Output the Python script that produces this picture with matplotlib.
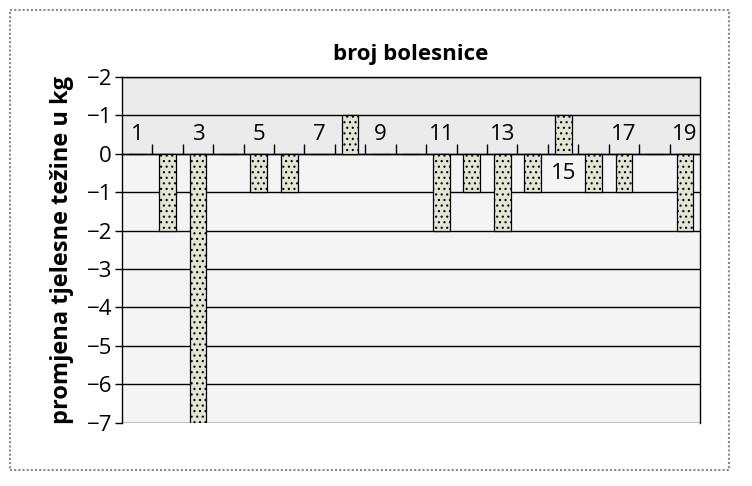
import matplotlib
matplotlib.use("Agg")
import matplotlib.pyplot as plt
from matplotlib.patches import Rectangle

# data
patients = list(range(1, 20))
weight_change = [0, -2, -7, 0, -1, -1, 0, 1, 0, 0, -2, -1, -2, -1, 1, -1, -1, 0, -2]
label_patients = [1, 3, 5, 7, 9, 11, 13, 15, 17, 19]
y_ticks = [-7, -6, -5, -4, -3, -2, -1, 0, 1, 2]
y_tick_labels = ["\u22127", "\u22126", "\u22125", "\u22124", "\u22123", "\u22122", "\u22121", "0", "\u22121", "\u22122"]

plt.rcParams["font.family"] = ["Open Sans", "DejaVu Sans"]
plt.rcParams["hatch.color"] = "#c9cdae"
plt.rcParams["hatch.linewidth"] = 0.8

fig = plt.figure(figsize=(7.52, 4.86), dpi=100)
ax = fig.add_axes([0.162, 0.130, 0.769, 0.712])
ax.set_facecolor("#f4f4f4")
ax.axhspan(0, 2, color="#ebebeb", zorder=0)

# grid lines at every integer
for y in y_ticks:
    ax.axhline(y, color="black", lw=1.0, zorder=1)

ax.bar(patients, weight_change, width=0.55, color="#e2e4d4", edgecolor="black",
       linewidth=0.9, hatch="...", zorder=3)

ax.set_xlim(0.5, 19.5)
ax.set_ylim(-7, 2)

ax.set_yticks(y_ticks)
ax.set_yticklabels(y_tick_labels, fontsize=16)
ax.tick_params(axis="y", direction="out", length=5, width=1, pad=2)

# x axis sits at zero, ticks between categories
ax.spines["bottom"].set_position(("data", 0))
ax.set_xticks([p + 0.5 for p in patients[:-1]])
ax.set_xticklabels([])
ax.tick_params(axis="x", direction="in", length=7, width=1)
for s in ax.spines.values():
    s.set_color("black")
    s.set_linewidth(1.0)

for p in label_patients:
    yy = -0.52 if p == 15 else 0.5
    ax.text(p, yy, str(p), ha="center", va="center", fontsize=16, zorder=4)

ax.set_title("broj bolesnice", fontsize=16, fontweight="bold", pad=12)
ax.set_ylabel("promjena tjelesne težine u kg", fontsize=17, fontweight="bold", labelpad=9)

# dotted outer frame
fig.patches.append(Rectangle((10 / 752, 16 / 486), 719 / 752, 460 / 486,
                             transform=fig.transFigure, fill=False,
                             edgecolor="#8a8a8a", lw=1.5, ls=(0, (1, 1))))

fig.savefig("out.png", dpi=100)
